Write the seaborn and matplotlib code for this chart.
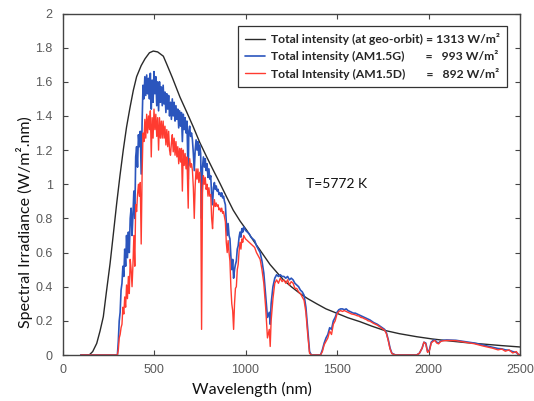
import matplotlib
matplotlib.use("Agg")
import matplotlib.pyplot as plt
import seaborn as sns
import numpy as np
import pandas as pd

# ---------------- data ----------------
# Black-body curve (T = 5772 K), scaled, as drawn
bb_wl = [100, 146, 165, 187, 205, 223, 240, 260, 278, 296, 314, 332, 350, 369, 387,
         405, 430, 451, 475, 496, 520, 551, 569, 600, 642, 680, 715, 750, 788, 825,
         861, 897, 933, 970, 1007, 1040, 1079, 1134, 1207, 1250, 1298, 1340, 1389,
         1440, 1498, 1560, 1626, 1690, 1753, 1840, 1936, 2020, 2117, 2200, 2299,
         2400, 2500]
bb_val = [0, 0, 0.02, 0.068, 0.14, 0.224, 0.37, 0.536, 0.71, 0.887, 1.05, 1.20, 1.335,
          1.45, 1.55, 1.63, 1.695, 1.735, 1.77, 1.78, 1.775, 1.75, 1.705, 1.625, 1.51,
          1.42, 1.335, 1.245, 1.16, 1.08, 1.004, 0.925, 0.848, 0.785, 0.73, 0.675,
          0.615, 0.53, 0.44, 0.40, 0.36, 0.33, 0.30, 0.27, 0.245, 0.218, 0.195, 0.169,
          0.146, 0.125, 0.107, 0.094, 0.082, 0.073, 0.064, 0.055, 0.047]

# Spectral wavelength grid (nm)
wl = [100, 295, 300, 305, 310, 315, 320, 325, 330, 335,
      340, 345, 350, 355, 360, 365, 370, 375, 380, 385,
      390, 395, 400, 405, 410, 415, 420, 425, 430, 435,
      440, 445, 450, 455, 460, 465, 470, 475, 480, 485,
      490, 495, 500, 505, 510, 515, 520, 525, 530, 535,
      540, 545, 550, 555, 560, 565, 570, 575, 580, 585,
      590, 595, 600, 605, 610, 615, 620, 625, 630, 635,
      640, 645, 650, 655, 660, 665, 670, 675, 680, 687,
      690, 695, 700, 705, 710, 715, 720, 725, 730, 735,
      740, 745, 750, 755, 760, 765, 770, 775, 780, 785,
      790, 795, 800, 805, 810, 815, 820, 825, 830, 835,
      840, 845, 850, 855, 860, 865, 870, 875, 880, 885,
      890, 895, 900, 905, 910, 915, 920, 925, 930, 935,
      940, 945, 950, 955, 960, 965, 970, 975, 980, 985,
      990, 995, 1000, 1010, 1020, 1030, 1040, 1050, 1060, 1070,
      1080, 1090, 1100, 1110, 1120, 1130, 1135, 1140, 1150, 1160,
      1170, 1180, 1190, 1200, 1210, 1220, 1230, 1240, 1250, 1260,
      1270, 1280, 1290, 1300, 1310, 1320, 1330, 1340, 1350, 1360,
      1410, 1420, 1430, 1440, 1450, 1460, 1470, 1480, 1490, 1500,
      1510, 1520, 1530, 1540, 1550, 1560, 1570, 1580, 1590, 1600,
      1610, 1620, 1630, 1640, 1650, 1660, 1670, 1680, 1700, 1720,
      1740, 1760, 1770, 1780, 1790, 1800, 1820, 1935, 1950, 1965,
      1975, 1985, 1995, 2005, 2015, 2025, 2035, 2045, 2055, 2065,
      2075, 2100, 2150, 2200, 2250, 2300, 2350, 2380, 2400, 2420,
      2440, 2460, 2480, 2490, 2500]

# AM1.5G (global) spectral irradiance
am15g = [0, 0, 0.0, 0.08, 0.2, 0.25, 0.38, 0.42, 0.52, 0.46,
         0.62, 0.52, 0.7, 0.57, 0.72, 0.6, 0.8, 0.86, 0.7, 0.82,
         0.96, 0.8, 1.16, 1.22, 1.1, 1.29, 1.22, 1.31, 1.06, 1.36,
         1.58, 1.5, 1.63, 1.52, 1.64, 1.53, 1.62, 1.5, 1.65, 1.44,
         1.61, 1.48, 1.66, 1.53, 1.63, 1.46, 1.6, 1.43, 1.6, 1.48,
         1.57, 1.46, 1.58, 1.47, 1.54, 1.42, 1.53, 1.44, 1.52, 1.4,
         1.48, 1.38, 1.5, 1.4, 1.48, 1.37, 1.46, 1.38, 1.44, 1.33,
         1.43, 1.34, 1.42, 1.25, 1.41, 1.32, 1.39, 1.3, 1.37, 1.03,
         1.31, 1.34, 1.28, 1.3, 1.26, 1.18, 1.08, 1.2, 1.26, 1.2,
         1.25, 1.17, 1.23, 1.18, 0.8, 1.1, 1.16, 1.1, 1.15, 1.08,
         1.12, 1.04, 1.09, 1.03, 1.05, 0.94, 0.88, 0.98, 1.01, 0.97,
         0.99, 0.96, 0.97, 0.94, 0.95, 0.93, 0.95, 0.92, 0.93, 0.9,
         0.88, 0.78, 0.7, 0.77, 0.7, 0.68, 0.58, 0.5, 0.56, 0.45,
         0.5, 0.53, 0.55, 0.62, 0.64, 0.69, 0.72, 0.69, 0.74, 0.72,
         0.75, 0.74, 0.73, 0.72, 0.71, 0.69, 0.68, 0.67, 0.64, 0.62,
         0.6, 0.55, 0.48, 0.35, 0.22, 0.25, 0.18, 0.3, 0.4, 0.45,
         0.47, 0.46, 0.47, 0.46, 0.46, 0.45, 0.46, 0.44, 0.45, 0.44,
         0.42, 0.41, 0.4, 0.38, 0.37, 0.35, 0.28, 0.15, 0.02, 0.0,
         0.0, 0.03, 0.07, 0.1, 0.12, 0.16, 0.15, 0.2, 0.22, 0.25,
         0.265, 0.27, 0.27, 0.265, 0.27, 0.26, 0.255, 0.25, 0.245, 0.245,
         0.24, 0.235, 0.23, 0.225, 0.22, 0.215, 0.21, 0.205, 0.19, 0.18,
         0.165, 0.15, 0.13, 0.09, 0.04, 0.01, 0.0, 0.0, 0.01, 0.04,
         0.075, 0.07, 0.02, 0.03, 0.075, 0.085, 0.088, 0.075, 0.07, 0.08,
         0.085, 0.088, 0.086, 0.078, 0.07, 0.058, 0.045, 0.038, 0.036, 0.03,
         0.028, 0.02, 0.015, 0.005, 0.0]

# AM1.5D (direct) spectral irradiance
am15d = [0, 0, 0, 0.03, 0.1, 0.12, 0.16, 0.18, 0.28, 0.24,
         0.34, 0.28, 0.41, 0.33, 0.46, 0.36, 0.56, 0.5, 0.4, 0.53,
         0.7, 0.52, 0.88, 0.84, 0.94, 1.0, 0.93, 1.01, 0.65, 1.06,
         1.3, 1.25, 1.38, 1.27, 1.41, 1.3, 1.4, 1.32, 1.43, 1.16,
         1.39, 1.27, 1.44, 1.32, 1.41, 1.28, 1.39, 1.2, 1.39, 1.27,
         1.37, 1.27, 1.37, 1.27, 1.34, 1.23, 1.32, 1.22, 1.31, 1.2,
         1.17, 1.24, 1.29, 1.19, 1.27, 1.17, 1.25, 1.16, 1.22, 1.12,
         1.21, 1.13, 1.21, 0.96, 1.2, 1.11, 1.18, 1.09, 1.16, 0.86,
         1.1, 1.15, 1.1, 1.12, 1.08, 0.98, 0.8, 0.99, 1.09, 1.03,
         1.09, 1.01, 1.07, 1.0, 0.15, 0.95, 1.05, 1.0, 1.04, 0.97,
         1.0, 0.93, 0.98, 0.93, 0.94, 0.8, 0.74, 0.86, 0.91, 0.87,
         0.89, 0.87, 0.88, 0.85, 0.86, 0.84, 0.86, 0.83, 0.84, 0.81,
         0.78, 0.66, 0.6, 0.67, 0.6, 0.55, 0.4, 0.3, 0.26, 0.15,
         0.3, 0.39, 0.4, 0.5, 0.53, 0.61, 0.66, 0.62, 0.68, 0.66,
         0.7, 0.69, 0.68, 0.67, 0.66, 0.65, 0.64, 0.63, 0.6, 0.58,
         0.56, 0.5, 0.42, 0.28, 0.1, 0.15, 0.05, 0.2, 0.33, 0.42,
         0.44, 0.42, 0.45, 0.43, 0.44, 0.42, 0.44, 0.41, 0.43, 0.42,
         0.39, 0.39, 0.37, 0.36, 0.34, 0.32, 0.25, 0.12, 0.01, 0,
         0, 0.02, 0.06, 0.08, 0.1, 0.14, 0.12, 0.18, 0.2, 0.24,
         0.255, 0.26, 0.255, 0.26, 0.255, 0.25, 0.245, 0.24, 0.238, 0.235,
         0.23, 0.228, 0.22, 0.218, 0.212, 0.208, 0.2, 0.198, 0.185, 0.175,
         0.16, 0.145, 0.125, 0.085, 0.035, 0.008, 0, 0, 0.01, 0.04,
         0.075, 0.065, 0.015, 0.025, 0.07, 0.08, 0.085, 0.07, 0.065, 0.078,
         0.082, 0.085, 0.084, 0.075, 0.066, 0.052, 0.04, 0.03, 0.035, 0.022,
         0.03, 0.012, 0.02, 0.004, 0]

labels = ["Total intensity (at geo-orbit) = 1313 W/m\u00b2",
          "Total intensity (AM1.5G)       =   993 W/m\u00b2",
          "Total Intensity (AM1.5D)       =   892 W/m\u00b2"]
x_ticks = [0, 500, 1000, 1500, 2000, 2500]
y_ticks = [0, 0.2, 0.4, 0.6, 0.8, 1, 1.2, 1.4, 1.6, 1.8, 2]
y_tick_labels = ["0", "0.2", "0.4", "0.6", "0.8", "1", "1.2", "1.4", "1.6", "1.8", "2"]

assert len(wl) == len(am15g) == len(am15d)
assert len(bb_wl) == len(bb_val)

# ---------------- styling ----------------
sns.set_style("white")
plt.rcParams["font.family"] = ["Lato", "DejaVu Sans"]

fig = plt.figure(figsize=(5.34, 4.01), dpi=100)
ax = fig.add_axes([62.5 / 534, 1 - 355 / 401, 457.5 / 534, 341.5 / 401])

c_black = "#2a2a2a"
c_blue = "#2b55bd"
c_red = "#ff3b30"

sns.lineplot(x=bb_wl, y=bb_val, ax=ax, color=c_black, lw=1.0, estimator=None, sort=False)
sns.lineplot(x=wl, y=am15g, ax=ax, color=c_blue, lw=1.2, estimator=None, sort=False)
sns.lineplot(x=wl, y=am15d, ax=ax, color=c_red, lw=1.0, estimator=None, sort=False)

ax.set_xlim(0, 2500)
ax.set_ylim(0, 2)
ax.set_xticks(x_ticks)
ax.set_xticklabels([str(t) for t in x_ticks])
ax.set_yticks(y_ticks)
ax.set_yticklabels(y_tick_labels)

for lab in ax.get_xticklabels() + ax.get_yticklabels():
    lab.set_fontfamily(["Liberation Sans", "DejaVu Sans"])
    lab.set_fontsize(9)
    lab.set_color("#5a5a5a")

ax.tick_params(axis="both", which="both", direction="in", length=3.5, width=0.8,
               color="#444444", top=True, right=True, bottom=True, left=True)
ax.tick_params(axis="x", pad=6.5)
ax.tick_params(axis="y", pad=7)
for s in ax.spines.values():
    s.set_visible(True)
    s.set_color("#444444")
    s.set_linewidth(1.0)

ax.set_xlabel("Wavelength (nm)", fontsize=11.5, color="#111111")
ax.set_ylabel("Spectral Irradiance (W/m\u00b2.nm)", fontsize=11.5, color="#111111")
ax.xaxis.set_label_coords(0.414, -0.079)
ax.yaxis.set_label_coords(-0.064, 0.39)

ax.text(1331, 1.0, "T=5772 K", fontsize=10, color="#111111", va="center", ha="left")

lines = ax.get_lines()
leg = ax.legend(lines[:3], labels, loc="upper right", bbox_to_anchor=(0.972, 0.963),
                borderaxespad=0, frameon=True, fancybox=False, shadow=False,
                prop={"family": ["Lato", "DejaVu Sans"], "weight": "bold", "size": 8.7},
                handlelength=1.65, handletextpad=0.5, borderpad=0.6, labelspacing=0.42)
leg.get_frame().set_edgecolor("#333333")
leg.get_frame().set_linewidth(0.9)
leg.get_frame().set_alpha(1)

fig.savefig("out.png", dpi=100)
